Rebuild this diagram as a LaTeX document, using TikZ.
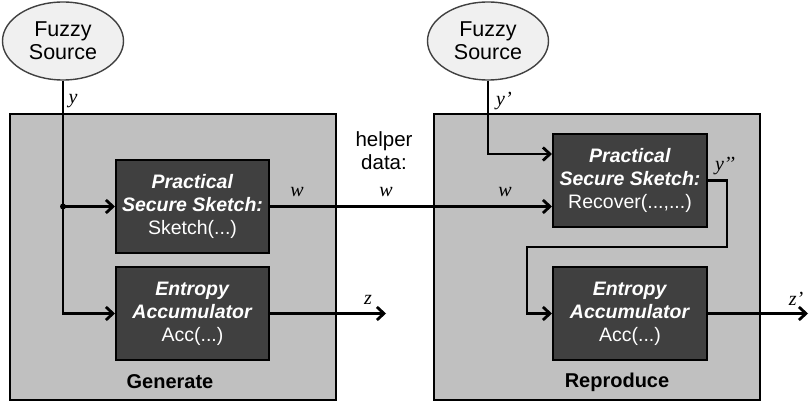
\documentclass[tikz,border=0pt]{standalone}
\usepackage{fontspec}
\setmainfont{Liberation Sans}
\newfontfamily\varfont{Liberation Serif}
\usetikzlibrary{arrows.meta,shapes.geometric}

\definecolor{stagegray}{RGB}{192,192,192}
\definecolor{blockgray}{RGB}{64,64,64}
\definecolor{sourcegray}{RGB}{240,240,240}

\tikzset{
  stagebox/.style={rectangle, draw=black, fill=stagegray, line width=2pt,
    minimum width=326pt, minimum height=286pt, inner sep=0pt},
  block/.style={rectangle, draw=black, fill=blockgray, line width=2pt,
    minimum width=153pt, minimum height=93pt, inner sep=0pt,
    text=white, align=center, font=\fontsize{19.5}{23}\selectfont},
  source/.style={ellipse, draw=black!75, fill=sourcegray, line width=1.4pt,
    minimum width=121pt, minimum height=78pt, inner sep=0pt,
    align=center, font=\fontsize{21.5}{23}\selectfont},
  stagelabel/.style={font=\fontsize{20}{23}\selectfont\bfseries},
  plain/.style={font=\fontsize{20.5}{23}\selectfont, align=center},
  var/.style={font=\fontsize{20}{23}\selectfont\varfont\itshape, inner sep=0pt},
  wire/.style={line width=2.8pt},
  arr/.style={wire, -{Straight Barb[length=7pt,width=13pt,line width=2.8pt]}},
}

\begin{document}
\begin{tikzpicture}[x=1pt,y=-1pt]
\useasboundingbox (0,0) rectangle (809,403);

% stages
\node[stagebox] (gen) at (173,257) {};
\node[stagebox] (rep) at (597,257) {};
\node[stagelabel] (genlab) at (170,382) {Generate};
\node[stagelabel] (replab) at (617,382) {Reproduce};

% fuzzy sources
\node[source] (fsL) at (63,41) {Fuzzy\\Source};
\node[source] (fsR) at (488,41) {Fuzzy\\Source};

% blocks in Generate
\node[block] (skL) at (192.5,206.5) {\textbf{\textit{Practical}}\\\textbf{\textit{Secure Sketch:}}\\Sketch(...)};
\node[block] (accL) at (192.5,313.5) {\textbf{\textit{Entropy}}\\\textbf{\textit{Accumulator}}\\Acc(...)};

% blocks in Reproduce
\node[block, minimum width=154pt] (skR) at (630,180.5) {\textbf{\textit{Practical}}\\\textbf{\textit{Secure Sketch:}}\\Recover(...,...)};
\node[block, minimum width=154pt] (accR) at (630,313.5) {\textbf{\textit{Entropy}}\\\textbf{\textit{Accumulator}}\\Acc(...)};

% helper data caption
\node[plain] (helper) at (384,151) {helper\\data:};

% Generate wiring
\coordinate (jn) at (fsL.south |- skL.west);
\draw[arr] (fsL.south) |- (accL.west);
\draw[arr] (jn) -- (skL.west);
\fill (jn) circle (3pt);
\coordinate (zL) at (386,313.5);
\draw[arr] (accL.east) -- (zL);

% helper data w
\draw[arr] (skL.east) -- (skR.west |- skL.east);

% Reproduce wiring
\coordinate (inR) at ([yshift=26.5pt]skR.west);
\draw[arr] (fsR.south) |- (inR);
\coordinate (b1) at (727,247);
\coordinate (b2) at (527,247);
\draw[arr] (skR.east) -| (b1) -- (b2) |- (accR.west);
\coordinate (zR) at (808,313.5);
\draw[arr] (accR.east) -- (zR);

% variable labels
\node[var] (ly) at (73,101) {y};
\node[var] (lw1) at (297,192) {w};
\node[var] (lw2) at (386,192) {w};
\node[var] (lw3) at (505,192) {w};
\node[var] (lz) at (368,300) {z};
\node[var] (lyp) at (504,101) {y’};
\node[var] (lypp) at (725,166) {y’’};
\node[var] (lzp) at (796,299) {z’};
\end{tikzpicture}
\end{document}
